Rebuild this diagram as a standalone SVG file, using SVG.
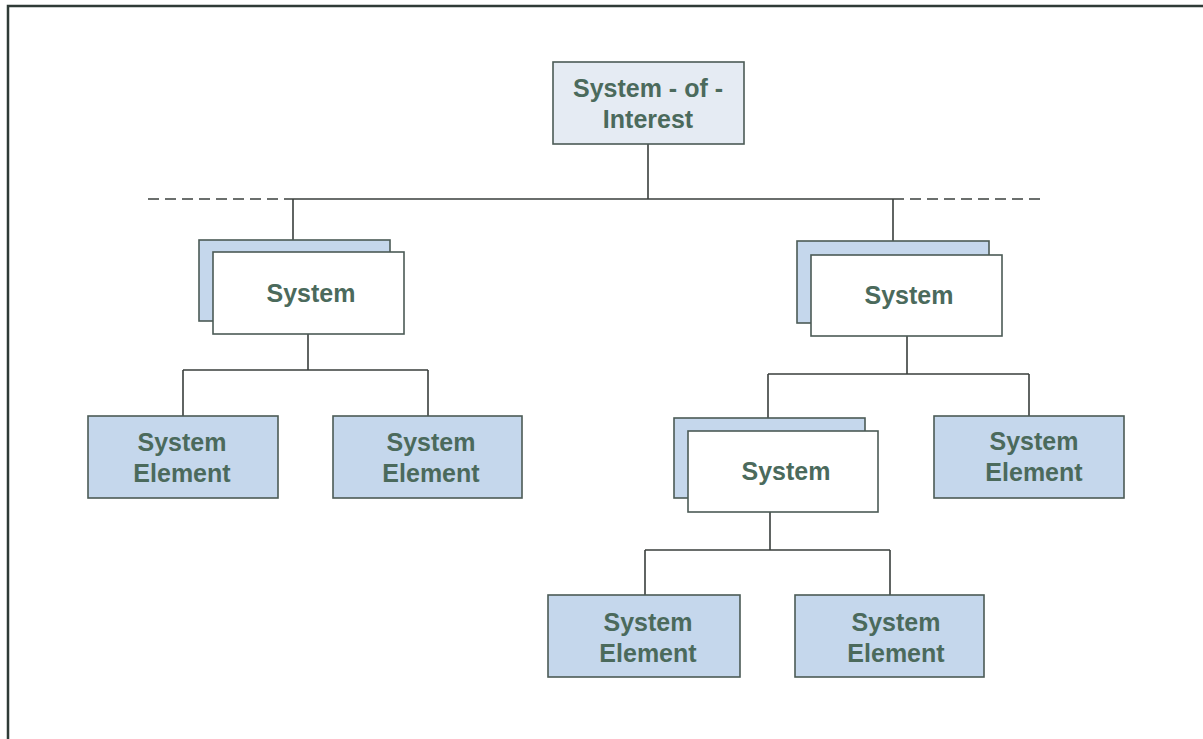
<svg xmlns="http://www.w3.org/2000/svg" width="1203" height="739" viewBox="0 0 1203 739">
  <style>
    .frame { fill: #ffffff; stroke: #2f3b37; stroke-width: 2.5; }
    .box { stroke: #4b5b56; stroke-width: 1.6; }
    .soi { fill: #e5ebf3; }
    .back { fill: #c5d7ec; }
    .front { fill: #ffffff; }
    .elem { fill: #c5d7ec; }
    .lbl { font-family: "Liberation Sans", Arial, sans-serif; font-weight: bold; font-size: 25px; fill: #4b6a5c; text-anchor: middle; }
    .wire { fill: none; stroke: #3a3f3d; stroke-width: 1.6; }
    .dash { fill: none; stroke: #6b6f6d; stroke-width: 2; stroke-dasharray: 11 6; }
  </style>

  <rect width="1203" height="739" fill="#ffffff"/>
  <rect class="frame" x="8" y="6" width="1210" height="760"/>

  <!-- connectors -->
  <g id="connectors">
    <path class="dash" d="M148 199 H293"/>
    <path class="dash" d="M893 199 H1045"/>
    <path class="wire" d="M648 144 V199 M293 199 H893"/>
    <path class="wire" d="M293 199 V240 M893 199 V241"/>
    <path class="wire" d="M308 334 V370 M183 370 H428 M183 370 V416 M428 370 V416"/>
    <path class="wire" d="M907 336 V374 M768 374 H1029 M768 374 V418 M1029 374 V416"/>
    <path class="wire" d="M770 512 V550 M645 550 H890 M645 550 V595 M890 550 V595"/>
  </g>

  <!-- system of interest -->
  <g id="soi">
    <rect class="box soi" x="553" y="62" width="191" height="82"/>
    <text class="lbl" x="648" y="97">System - of -</text>
    <text class="lbl" x="648" y="128">Interest</text>
  </g>

  <!-- left system -->
  <g id="system-left">
    <rect class="box back" x="199" y="240" width="191" height="81"/>
    <rect class="box front" x="213" y="252" width="191" height="82"/>
    <text class="lbl" x="311" y="302">System</text>
  </g>

  <!-- right system -->
  <g id="system-right">
    <rect class="box back" x="797" y="241" width="192" height="82"/>
    <rect class="box front" x="811" y="255" width="191" height="81"/>
    <text class="lbl" x="909" y="304">System</text>
  </g>

  <!-- nested system -->
  <g id="system-nested">
    <rect class="box back" x="674" y="418" width="191" height="80"/>
    <rect class="box front" x="688" y="431" width="190" height="81"/>
    <text class="lbl" x="786" y="480">System</text>
  </g>

  <!-- system elements -->
  <g id="element-1">
    <rect class="box elem" x="88" y="416" width="190" height="82"/>
    <text class="lbl" x="182" y="451">System</text>
    <text class="lbl" x="182" y="482">Element</text>
  </g>
  <g id="element-2">
    <rect class="box elem" x="333" y="416" width="189" height="82"/>
    <text class="lbl" x="431" y="451">System</text>
    <text class="lbl" x="431" y="482">Element</text>
  </g>
  <g id="element-3">
    <rect class="box elem" x="934" y="416" width="190" height="82"/>
    <text class="lbl" x="1034" y="450">System</text>
    <text class="lbl" x="1034" y="481">Element</text>
  </g>
  <g id="element-4">
    <rect class="box elem" x="548" y="595" width="192" height="82"/>
    <text class="lbl" x="648" y="631">System</text>
    <text class="lbl" x="648" y="662">Element</text>
  </g>
  <g id="element-5">
    <rect class="box elem" x="795" y="595" width="189" height="82"/>
    <text class="lbl" x="896" y="631">System</text>
    <text class="lbl" x="896" y="662">Element</text>
  </g>
</svg>
